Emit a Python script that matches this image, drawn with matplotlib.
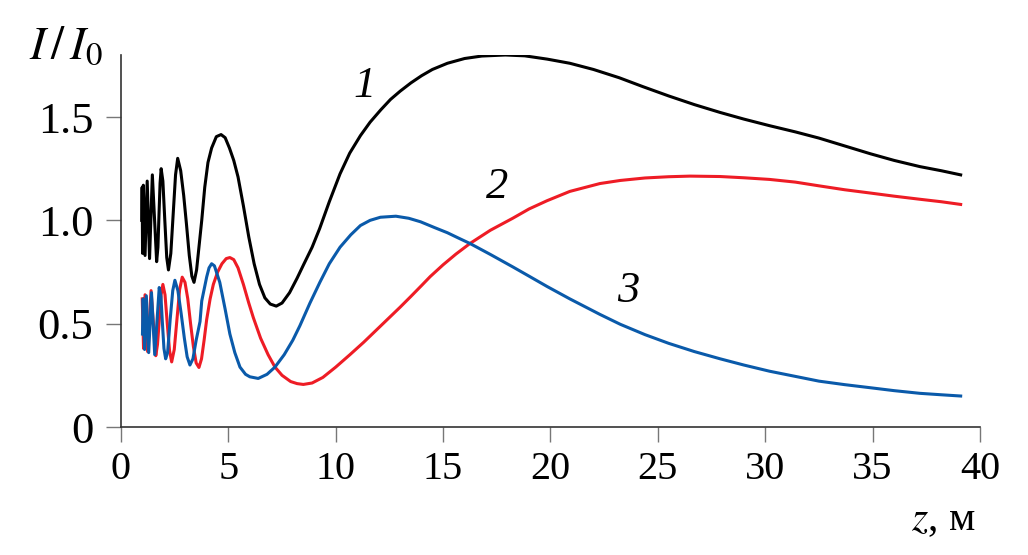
import numpy as np
import matplotlib
matplotlib.use("Agg")
import matplotlib.pyplot as plt

plt.rcParams['font.family'] = ['Liberation Serif', 'DejaVu Serif']
plt.rcParams['mathtext.fontset'] = 'stix'

# curve 1 (black)
z1 = [0.97, 0.985, 1.005, 1.04, 1.12, 1.22, 1.33, 1.46, 1.56, 1.66, 1.72, 1.77, 1.82, 1.87,
      1.95, 2.04, 2.13, 2.21, 2.32, 2.43, 2.54, 2.64, 2.78, 2.92, 3.05, 3.18, 3.30, 3.40,
      3.52, 3.64, 3.76, 3.90, 4.05, 4.22, 4.44, 4.66, 4.85, 5.05, 5.25, 5.45, 5.70, 5.95,
      6.20, 6.45, 6.70, 6.95, 7.23, 7.50, 7.85, 8.20, 8.50, 8.90, 9.25, 9.70, 10.2, 10.65,
      11.15, 11.6, 12.1, 12.55, 13.0, 13.5, 14.0, 14.5, 15.2, 16.0, 16.8, 17.9, 18.8, 19.85,
      20.9, 22.0, 23.2, 24.3, 25.5, 26.7, 27.9, 29.0, 30.2, 31.4, 32.5, 33.7, 34.9, 36.0,
      37.2, 38.2, 39.1]
i1 = [1.00, 1.16, 0.84, 1.17, 0.83, 1.19, 0.815, 1.22, 1.01, 0.80, 0.87, 1.03, 1.18, 1.25,
      1.19, 1.00, 0.82, 0.76, 0.84, 1.03, 1.22, 1.30, 1.24, 1.12, 0.98, 0.83, 0.73, 0.70,
      0.76, 0.88, 1.00, 1.16, 1.28, 1.35, 1.405, 1.415, 1.40, 1.35, 1.29, 1.21, 1.07, 0.92,
      0.79, 0.69, 0.625, 0.595, 0.585, 0.60, 0.65, 0.72, 0.785, 0.87, 0.96, 1.09, 1.225, 1.325,
      1.41, 1.475, 1.535, 1.585, 1.625, 1.665, 1.70, 1.73, 1.76, 1.783, 1.795, 1.80, 1.796, 1.78,
      1.76, 1.73, 1.69, 1.647, 1.602, 1.56, 1.522, 1.49, 1.458, 1.428, 1.398, 1.36, 1.322, 1.29,
      1.26, 1.24, 1.22]

# curve 2 (red)
z2 = [0.99, 1.05, 1.12, 1.24, 1.40, 1.51, 1.62, 1.70, 1.785, 1.87, 1.95, 2.05, 2.155, 2.26,
      2.36, 2.48, 2.605, 2.73, 2.85, 2.98, 3.11, 3.24, 3.37, 3.50, 3.63, 3.75, 3.87, 3.99,
      4.15, 4.30, 4.50, 4.70, 4.90, 5.07, 5.25, 5.45, 5.70, 5.95, 6.16, 6.50, 6.85, 7.17,
      7.50, 7.90, 8.20, 8.49, 8.90, 9.40, 10.0, 10.66, 11.3, 12.0, 12.5, 13.0, 13.5, 14.0,
      14.4, 15.0, 15.6, 16.25, 17.2, 18.24, 19.0, 19.84, 20.9, 22.3, 23.25, 24.4, 25.5, 26.5,
      27.9, 29.0, 30.2, 31.4, 32.5, 33.7, 34.9, 36.0, 37.2, 38.2, 39.1]
i2 = [0.62, 0.38, 0.64, 0.365, 0.66, 0.50, 0.345, 0.40, 0.52, 0.64, 0.69, 0.64, 0.50, 0.37,
      0.315, 0.375, 0.52, 0.665, 0.725, 0.70, 0.62, 0.50, 0.39, 0.31, 0.288, 0.33, 0.42, 0.52,
      0.62, 0.69, 0.75, 0.79, 0.815, 0.82, 0.81, 0.77, 0.69, 0.60, 0.53, 0.43, 0.35, 0.29,
      0.25, 0.22, 0.21, 0.206, 0.213, 0.24, 0.29, 0.35, 0.41, 0.48, 0.53, 0.58, 0.632, 0.685,
      0.728, 0.785, 0.837, 0.888, 0.952, 1.01, 1.055, 1.095, 1.14, 1.178, 1.193, 1.205, 1.211, 1.214,
      1.212, 1.206, 1.198, 1.185, 1.167, 1.148, 1.132, 1.117, 1.102, 1.09, 1.077]

# curve 3 (blue)
z3 = [1.00, 1.03, 1.10, 1.18, 1.29, 1.42, 1.57, 1.675, 1.78, 1.86, 1.93, 2.00, 2.08, 2.17,
      2.29, 2.41, 2.51, 2.65, 2.80, 2.95, 3.08, 3.21, 3.35, 3.50, 3.68, 3.76, 3.99, 4.10,
      4.22, 4.35, 4.60, 4.85, 5.07, 5.30, 5.54, 5.80, 6.00, 6.39, 6.80, 7.17, 7.60, 8.00,
      8.33, 8.80, 9.26, 9.70, 10.2, 10.7, 11.15, 11.6, 12.08, 12.8, 13.4, 13.95, 14.6, 15.2,
      15.7, 16.25, 17.2, 18.24, 19.0, 19.84, 20.9, 22.3, 23.25, 24.4, 25.5, 26.7, 27.9, 29.0,
      30.2, 31.4, 32.5, 33.7, 34.9, 36.0, 37.2, 38.2, 39.1]
i3 = [0.45, 0.62, 0.375, 0.635, 0.36, 0.65, 0.35, 0.51, 0.675, 0.63, 0.50, 0.38, 0.33, 0.36,
      0.52, 0.66, 0.71, 0.66, 0.55, 0.43, 0.34, 0.30, 0.33, 0.42, 0.51, 0.61, 0.726, 0.77,
      0.79, 0.78, 0.70, 0.57, 0.45, 0.36, 0.29, 0.255, 0.243, 0.235, 0.255, 0.29, 0.35, 0.42,
      0.49, 0.60, 0.70, 0.79, 0.87, 0.93, 0.975, 1.00, 1.015, 1.02, 1.01, 0.993, 0.965, 0.94,
      0.915, 0.888, 0.835, 0.775, 0.73, 0.68, 0.62, 0.545, 0.497, 0.447, 0.405, 0.365, 0.33, 0.30,
      0.27, 0.245, 0.222, 0.205, 0.19, 0.176, 0.163, 0.156, 0.15]

xticks = [0, 5, 10, 15, 20, 25, 30, 35, 40]
yticks = [0, 0.5, 1.0, 1.5]
ylabels = ['0', '0.5', '1.0', '1.5']

fig = plt.figure(figsize=(10.28, 5.55), dpi=100)
ax = fig.add_axes([0.1177, 0.2306, 0.8356, 0.6703])

ax.plot(z1, i1, color='black', lw=2.2, solid_joinstyle='round')
ax.plot(z2, i2, color='#ee1c25', lw=2.2, solid_joinstyle='round')
ax.plot(z3, i3, color='#0a5aaa', lw=2.2, solid_joinstyle='round')

ax.set_xlim(0, 40)
ax.set_ylim(0, 1.8)
ax.set_xticks(xticks)
ax.set_xticklabels([str(t) for t in xticks])
ax.set_yticks(yticks)
ax.set_yticklabels(ylabels)

for s in ['top', 'right']:
    ax.spines[s].set_visible(False)
for s in ['left', 'bottom']:
    ax.spines[s].set_color('#333333')
    ax.spines[s].set_linewidth(1.2)

ax.tick_params(axis='y', direction='out', length=11, width=1.0, color='#777777',
               pad=9, labelsize=32)
ax.tick_params(axis='x', direction='out', length=11, width=1.0, color='#777777',
               pad=6, labelsize=29)

# axis titles
fig.text(0.028, 0.895, r'$I\,/\,I_0$', fontsize=34, ha='left', va='baseline')
fig.text(0.949, 0.045, r'$z$, м', fontsize=30, ha='right', va='baseline')

# curve numbers
ax.text(11.36, 1.65, '1', fontsize=32, style='italic', ha='center', va='center')
ax.text(17.5, 1.16, '2', fontsize=32, style='italic', ha='center', va='center')
ax.text(23.6, 0.66, '3', fontsize=32, style='italic', ha='center', va='center')

fig.savefig('out.png', dpi=100)
